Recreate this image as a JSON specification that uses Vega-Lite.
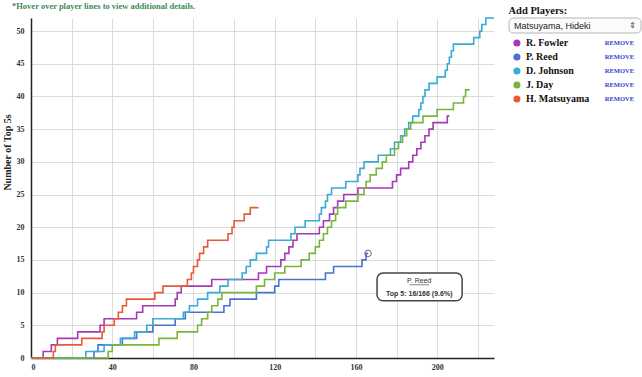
{
  "$schema": "https://vega.github.io/schema/vega-lite/v6.json",
  "background": "white",
  "padding": {"left": 2, "top": 2, "right": 0, "bottom": 0},
  "spacing": 10,
  "config": {
    "view": {"stroke": null},
    "font": "Liberation Serif",
    "legend": {"disable": true}
  },
  "resolve": {"scale": {"x": "independent", "y": "independent", "color": "shared"}},
  "datasets": {
    "series": [
      {"player": "R. Fowler", "events": 0, "top5": 0},
      {"player": "R. Fowler", "events": 6, "top5": 1},
      {"player": "R. Fowler", "events": 10, "top5": 2},
      {"player": "R. Fowler", "events": 13, "top5": 3},
      {"player": "R. Fowler", "events": 23, "top5": 4},
      {"player": "R. Fowler", "events": 34, "top5": 5},
      {"player": "R. Fowler", "events": 36, "top5": 6},
      {"player": "R. Fowler", "events": 52, "top5": 7},
      {"player": "R. Fowler", "events": 55, "top5": 8},
      {"player": "R. Fowler", "events": 71, "top5": 9},
      {"player": "R. Fowler", "events": 72, "top5": 10},
      {"player": "R. Fowler", "events": 74, "top5": 11},
      {"player": "R. Fowler", "events": 89, "top5": 12},
      {"player": "R. Fowler", "events": 112, "top5": 13},
      {"player": "R. Fowler", "events": 116, "top5": 14},
      {"player": "R. Fowler", "events": 123, "top5": 15},
      {"player": "R. Fowler", "events": 125, "top5": 16},
      {"player": "R. Fowler", "events": 127, "top5": 17},
      {"player": "R. Fowler", "events": 129, "top5": 18},
      {"player": "R. Fowler", "events": 131, "top5": 19},
      {"player": "R. Fowler", "events": 142, "top5": 20},
      {"player": "R. Fowler", "events": 144, "top5": 21},
      {"player": "R. Fowler", "events": 147, "top5": 22},
      {"player": "R. Fowler", "events": 149, "top5": 23},
      {"player": "R. Fowler", "events": 151, "top5": 24},
      {"player": "R. Fowler", "events": 154, "top5": 25},
      {"player": "R. Fowler", "events": 161, "top5": 26},
      {"player": "R. Fowler", "events": 178, "top5": 27},
      {"player": "R. Fowler", "events": 180, "top5": 28},
      {"player": "R. Fowler", "events": 182, "top5": 29},
      {"player": "R. Fowler", "events": 186, "top5": 30},
      {"player": "R. Fowler", "events": 188, "top5": 31},
      {"player": "R. Fowler", "events": 190, "top5": 32},
      {"player": "R. Fowler", "events": 192, "top5": 33},
      {"player": "R. Fowler", "events": 194, "top5": 34},
      {"player": "R. Fowler", "events": 196, "top5": 35},
      {"player": "R. Fowler", "events": 198, "top5": 36},
      {"player": "R. Fowler", "events": 205, "top5": 37},
      {"player": "R. Fowler", "events": 206, "top5": 37},
      {"player": "P. Reed", "events": 0, "top5": 0},
      {"player": "P. Reed", "events": 31, "top5": 1},
      {"player": "P. Reed", "events": 33, "top5": 2},
      {"player": "P. Reed", "events": 45, "top5": 3},
      {"player": "P. Reed", "events": 52, "top5": 4},
      {"player": "P. Reed", "events": 60, "top5": 5},
      {"player": "P. Reed", "events": 71, "top5": 6},
      {"player": "P. Reed", "events": 76, "top5": 7},
      {"player": "P. Reed", "events": 95, "top5": 8},
      {"player": "P. Reed", "events": 98, "top5": 9},
      {"player": "P. Reed", "events": 111, "top5": 10},
      {"player": "P. Reed", "events": 120, "top5": 11},
      {"player": "P. Reed", "events": 122, "top5": 12},
      {"player": "P. Reed", "events": 145, "top5": 13},
      {"player": "P. Reed", "events": 149, "top5": 14},
      {"player": "P. Reed", "events": 163, "top5": 15},
      {"player": "P. Reed", "events": 165, "top5": 16},
      {"player": "P. Reed", "events": 166, "top5": 16},
      {"player": "D. Johnson", "events": 0, "top5": 0},
      {"player": "D. Johnson", "events": 27, "top5": 1},
      {"player": "D. Johnson", "events": 36, "top5": 2},
      {"player": "D. Johnson", "events": 44, "top5": 3},
      {"player": "D. Johnson", "events": 51, "top5": 4},
      {"player": "D. Johnson", "events": 57, "top5": 5},
      {"player": "D. Johnson", "events": 60, "top5": 6},
      {"player": "D. Johnson", "events": 75, "top5": 7},
      {"player": "D. Johnson", "events": 78, "top5": 8},
      {"player": "D. Johnson", "events": 82, "top5": 9},
      {"player": "D. Johnson", "events": 87, "top5": 10},
      {"player": "D. Johnson", "events": 93, "top5": 11},
      {"player": "D. Johnson", "events": 97, "top5": 12},
      {"player": "D. Johnson", "events": 104, "top5": 13},
      {"player": "D. Johnson", "events": 106, "top5": 14},
      {"player": "D. Johnson", "events": 108, "top5": 15},
      {"player": "D. Johnson", "events": 111, "top5": 16},
      {"player": "D. Johnson", "events": 116, "top5": 17},
      {"player": "D. Johnson", "events": 117, "top5": 18},
      {"player": "D. Johnson", "events": 128, "top5": 19},
      {"player": "D. Johnson", "events": 130, "top5": 20},
      {"player": "D. Johnson", "events": 135, "top5": 21},
      {"player": "D. Johnson", "events": 142, "top5": 22},
      {"player": "D. Johnson", "events": 143, "top5": 23},
      {"player": "D. Johnson", "events": 145, "top5": 24},
      {"player": "D. Johnson", "events": 146, "top5": 25},
      {"player": "D. Johnson", "events": 148, "top5": 26},
      {"player": "D. Johnson", "events": 155, "top5": 27},
      {"player": "D. Johnson", "events": 161, "top5": 28},
      {"player": "D. Johnson", "events": 162, "top5": 29},
      {"player": "D. Johnson", "events": 164, "top5": 30},
      {"player": "D. Johnson", "events": 171, "top5": 31},
      {"player": "D. Johnson", "events": 177, "top5": 32},
      {"player": "D. Johnson", "events": 179, "top5": 33},
      {"player": "D. Johnson", "events": 182, "top5": 34},
      {"player": "D. Johnson", "events": 184, "top5": 35},
      {"player": "D. Johnson", "events": 186, "top5": 36},
      {"player": "D. Johnson", "events": 188, "top5": 37},
      {"player": "D. Johnson", "events": 191, "top5": 38},
      {"player": "D. Johnson", "events": 192, "top5": 39},
      {"player": "D. Johnson", "events": 193, "top5": 40},
      {"player": "D. Johnson", "events": 194, "top5": 41},
      {"player": "D. Johnson", "events": 196, "top5": 42},
      {"player": "D. Johnson", "events": 200, "top5": 43},
      {"player": "D. Johnson", "events": 204, "top5": 44},
      {"player": "D. Johnson", "events": 205, "top5": 45},
      {"player": "D. Johnson", "events": 206, "top5": 46},
      {"player": "D. Johnson", "events": 207, "top5": 47},
      {"player": "D. Johnson", "events": 208, "top5": 48},
      {"player": "D. Johnson", "events": 218, "top5": 49},
      {"player": "D. Johnson", "events": 221, "top5": 50},
      {"player": "D. Johnson", "events": 222, "top5": 51},
      {"player": "D. Johnson", "events": 224, "top5": 52},
      {"player": "D. Johnson", "events": 228, "top5": 52},
      {"player": "J. Day", "events": 0, "top5": 0},
      {"player": "J. Day", "events": 38, "top5": 1},
      {"player": "J. Day", "events": 40, "top5": 2},
      {"player": "J. Day", "events": 63, "top5": 3},
      {"player": "J. Day", "events": 72, "top5": 4},
      {"player": "J. Day", "events": 82, "top5": 5},
      {"player": "J. Day", "events": 84, "top5": 6},
      {"player": "J. Day", "events": 87, "top5": 7},
      {"player": "J. Day", "events": 89, "top5": 8},
      {"player": "J. Day", "events": 92, "top5": 9},
      {"player": "J. Day", "events": 94, "top5": 10},
      {"player": "J. Day", "events": 111, "top5": 11},
      {"player": "J. Day", "events": 115, "top5": 12},
      {"player": "J. Day", "events": 120, "top5": 13},
      {"player": "J. Day", "events": 125, "top5": 14},
      {"player": "J. Day", "events": 133, "top5": 15},
      {"player": "J. Day", "events": 137, "top5": 16},
      {"player": "J. Day", "events": 140, "top5": 17},
      {"player": "J. Day", "events": 142, "top5": 18},
      {"player": "J. Day", "events": 144, "top5": 19},
      {"player": "J. Day", "events": 146, "top5": 20},
      {"player": "J. Day", "events": 148, "top5": 21},
      {"player": "J. Day", "events": 150, "top5": 22},
      {"player": "J. Day", "events": 151, "top5": 23},
      {"player": "J. Day", "events": 155, "top5": 24},
      {"player": "J. Day", "events": 161, "top5": 25},
      {"player": "J. Day", "events": 164, "top5": 26},
      {"player": "J. Day", "events": 165, "top5": 27},
      {"player": "J. Day", "events": 167, "top5": 28},
      {"player": "J. Day", "events": 170, "top5": 29},
      {"player": "J. Day", "events": 173, "top5": 30},
      {"player": "J. Day", "events": 175, "top5": 31},
      {"player": "J. Day", "events": 179, "top5": 32},
      {"player": "J. Day", "events": 181, "top5": 33},
      {"player": "J. Day", "events": 183, "top5": 34},
      {"player": "J. Day", "events": 185, "top5": 35},
      {"player": "J. Day", "events": 187, "top5": 36},
      {"player": "J. Day", "events": 193, "top5": 37},
      {"player": "J. Day", "events": 200, "top5": 38},
      {"player": "J. Day", "events": 208, "top5": 39},
      {"player": "J. Day", "events": 213, "top5": 40},
      {"player": "J. Day", "events": 214, "top5": 41},
      {"player": "J. Day", "events": 216, "top5": 41},
      {"player": "H. Matsuyama", "events": 0, "top5": 0},
      {"player": "H. Matsuyama", "events": 11, "top5": 1},
      {"player": "H. Matsuyama", "events": 12, "top5": 2},
      {"player": "H. Matsuyama", "events": 25, "top5": 3},
      {"player": "H. Matsuyama", "events": 35, "top5": 4},
      {"player": "H. Matsuyama", "events": 36, "top5": 5},
      {"player": "H. Matsuyama", "events": 41, "top5": 6},
      {"player": "H. Matsuyama", "events": 43, "top5": 7},
      {"player": "H. Matsuyama", "events": 45, "top5": 8},
      {"player": "H. Matsuyama", "events": 47, "top5": 9},
      {"player": "H. Matsuyama", "events": 61, "top5": 10},
      {"player": "H. Matsuyama", "events": 65, "top5": 11},
      {"player": "H. Matsuyama", "events": 77, "top5": 12},
      {"player": "H. Matsuyama", "events": 79, "top5": 13},
      {"player": "H. Matsuyama", "events": 80, "top5": 14},
      {"player": "H. Matsuyama", "events": 82, "top5": 15},
      {"player": "H. Matsuyama", "events": 83, "top5": 16},
      {"player": "H. Matsuyama", "events": 85, "top5": 17},
      {"player": "H. Matsuyama", "events": 87, "top5": 18},
      {"player": "H. Matsuyama", "events": 97, "top5": 19},
      {"player": "H. Matsuyama", "events": 99, "top5": 20},
      {"player": "H. Matsuyama", "events": 100, "top5": 21},
      {"player": "H. Matsuyama", "events": 105, "top5": 22},
      {"player": "H. Matsuyama", "events": 108, "top5": 23},
      {"player": "H. Matsuyama", "events": 112, "top5": 23}
    ],
    "players": [
      {"player": "R. Fowler"},
      {"player": "P. Reed"},
      {"player": "D. Johnson"},
      {"player": "J. Day"},
      {"player": "H. Matsuyama"}
    ],
    "hover": [
      {"player": "P. Reed", "events": 166, "top5": 16, "label": "Top 5: 16/166 (9.6%)"}
    ],
    "select": [
      {"label": "Matsuyama, Hideki"}
    ]
  },
  "hconcat": [
    {
      "width": 463,
      "height": 340,
      "title": {
        "text": "*Hover over player lines to view additional details.",
        "anchor": "start",
        "frame": "bounds",
        "dx": 10,
        "offset": 4,
        "font": "Liberation Serif",
        "fontSize": 8.5,
        "fontWeight": "bold",
        "color": "#3d8c5c"
      },
      "layer": [
        {
          "data": {"name": "series"},
          "mark": {"type": "line", "interpolate": "step-after", "strokeWidth": 1.6},
          "encoding": {
            "x": {
              "field": "events",
              "type": "quantitative",
              "scale": {"domain": [0, 228], "nice": false, "zero": true},
              "axis": {
                "title": null,
                "values": [0, 20, 40, 60, 80, 100, 120, 140, 160, 180, 200, 220],
                "labelExpr": "datum.value % 40 === 0 ? datum.label : ''",
                "grid": true, "gridColor": "#dcdcdc", "gridWidth": 1, "ticks": false,
                "domainColor": "#222222", "domainWidth": 1.5,
                "labelFont": "Liberation Serif", "labelFontWeight": "bold", "labelFontSize": 8,
                "labelColor": "#333333", "labelPadding": 5
              }
            },
            "y": {
              "field": "top5",
              "type": "quantitative",
              "scale": {"domain": [0, 52], "nice": false},
              "axis": {
                "title": "Number of Top 5s",
                "titleFont": "Liberation Serif", "titleFontWeight": "bold", "titleFontSize": 10,
                "titleColor": "#222222", "titlePadding": 4, "titleY": 134,
                "values": [0, 5, 10, 15, 20, 25, 30, 35, 40, 45, 50],
                "tickCount": 11,
                "labelOverlap": false,
                "grid": true, "gridColor": "#dcdcdc", "gridWidth": 1, "ticks": false,
                "domainColor": "#222222", "domainWidth": 1.5,
                "labelFont": "Liberation Serif", "labelFontWeight": "bold", "labelFontSize": 8,
                "labelColor": "#333333", "labelPadding": 7
              }
            },
            "color": {
              "field": "player",
              "type": "nominal",
              "scale": {
                "domain": ["R. Fowler", "P. Reed", "D. Johnson", "J. Day", "H. Matsuyama"],
                "range": ["#a53ab5", "#4a72d4", "#3aaad6", "#78b53a", "#e55b38"]
              }
            }
          }
        },
        {
          "data": {"name": "hover"},
          "mark": {"type": "point", "shape": "circle", "filled": false, "size": 40, "stroke": "#555555", "strokeWidth": 1.2},
          "encoding": {
            "x": {"field": "events", "type": "quantitative", "axis": {"title": null, "values": [0, 20, 40, 60, 80, 100, 120, 140, 160, 180, 200, 220]}},
            "y": {"field": "top5", "type": "quantitative", "axis": {"title": "Number of Top 5s", "values": [0, 5, 10, 15, 20, 25, 30, 35, 40, 45, 50], "tickCount": 11}}
          }
        },
        {
          "data": {"name": "hover"},
          "mark": {"type": "rect", "fill": "white", "stroke": "#444444", "strokeWidth": 1.5, "cornerRadius": 6},
          "encoding": {
            "x": {"datum": 170.4, "type": "quantitative", "axis": {"title": null, "values": [0, 20, 40, 60, 80, 100, 120, 140, 160, 180, 200, 220]}},
            "x2": {"datum": 212.3},
            "y": {"datum": 8.75, "type": "quantitative", "axis": {"title": "Number of Top 5s", "values": [0, 5, 10, 15, 20, 25, 30, 35, 40, 45, 50], "tickCount": 11}},
            "y2": {"datum": 13.0}
          }
        },
        {
          "data": {"name": "hover"},
          "mark": {"type": "text", "font": "Liberation Sans", "fontSize": 7, "color": "#333333", "baseline": "middle"},
          "encoding": {
            "x": {"datum": 191.2, "type": "quantitative", "axis": {"title": null, "values": [0, 20, 40, 60, 80, 100, 120, 140, 160, 180, 200, 220]}},
            "y": {"datum": 11.8, "type": "quantitative", "axis": {"title": "Number of Top 5s", "values": [0, 5, 10, 15, 20, 25, 30, 35, 40, 45, 50], "tickCount": 11}},
            "text": {"field": "player"}
          }
        },
        {
          "data": {"name": "hover"},
          "mark": {"type": "rule", "color": "#555555", "strokeWidth": 0.7},
          "encoding": {
            "x": {"datum": 186.4, "type": "quantitative", "axis": {"title": null, "values": [0, 20, 40, 60, 80, 100, 120, 140, 160, 180, 200, 220]}},
            "x2": {"datum": 196.0},
            "y": {"datum": 11.2, "type": "quantitative", "axis": {"title": "Number of Top 5s", "values": [0, 5, 10, 15, 20, 25, 30, 35, 40, 45, 50], "tickCount": 11}}
          }
        },
        {
          "data": {"name": "hover"},
          "mark": {"type": "text", "font": "Liberation Sans", "fontSize": 7, "fontWeight": "bold", "color": "#333333", "baseline": "middle"},
          "encoding": {
            "x": {"datum": 191.2, "type": "quantitative", "axis": {"title": null, "values": [0, 20, 40, 60, 80, 100, 120, 140, 160, 180, 200, 220]}},
            "y": {"datum": 9.8, "type": "quantitative", "axis": {"title": "Number of Top 5s", "values": [0, 5, 10, 15, 20, 25, 30, 35, 40, 45, 50], "tickCount": 11}},
            "text": {"field": "label"}
          }
        }
      ]
    },
    {
      "spacing": 2,
      "vconcat": [
        {
          "width": 132,
          "height": 15,
          "data": {"name": "select"},
          "title": {
            "text": "Add Players:",
            "anchor": "start",
            "font": "Liberation Serif",
            "fontSize": 10.5,
            "fontWeight": "bold",
            "color": "#111111",
            "offset": 1
          },
          "layer": [
            {
              "mark": {"type": "rect", "fill": "#fbfbfb", "stroke": "#b5b5b5", "strokeWidth": 1, "cornerRadius": 4},
              "encoding": {}
            },
            {
              "mark": {"type": "text", "font": "Liberation Sans", "fontSize": 9, "color": "#222222", "align": "left", "dx": -61, "baseline": "middle"},
              "encoding": {"text": {"field": "label"}}
            },
            {
              "mark": {"type": "text", "font": "DejaVu Sans", "fontSize": 8, "color": "#333333", "align": "right", "dx": 61, "baseline": "middle", "text": "⇕"},
              "encoding": {}
            }
          ]
        },
        {
          "width": 132,
          "height": 70,
          "data": {"name": "players"},
          "encoding": {
            "y": {
              "field": "player",
              "type": "nominal",
              "scale": {"domain": ["R. Fowler", "P. Reed", "D. Johnson", "J. Day", "H. Matsuyama"]},
              "axis": null
            }
          },
          "layer": [
            {
              "mark": {"type": "point", "shape": "circle", "filled": true, "size": 50, "opacity": 1},
              "encoding": {
                "x": {"datum": 6, "type": "quantitative", "scale": {"domain": [0, 100]}, "axis": null},
                "color": {"field": "player", "type": "nominal"}
              }
            },
            {
              "mark": {"type": "text", "align": "left", "dx": 9, "baseline": "middle", "font": "Liberation Serif", "fontSize": 10, "fontWeight": "bold", "color": "#111111"},
              "encoding": {
                "x": {"datum": 6, "type": "quantitative"},
                "text": {"field": "player"}
              }
            },
            {
              "mark": {"type": "text", "align": "right", "baseline": "middle", "font": "Liberation Serif", "fontSize": 6.5, "fontWeight": "bold", "color": "#3b3bd6", "text": "REMOVE"},
              "encoding": {
                "x": {"datum": 94.7, "type": "quantitative"}
              }
            }
          ]
        }
      ]
    }
  ]
}
